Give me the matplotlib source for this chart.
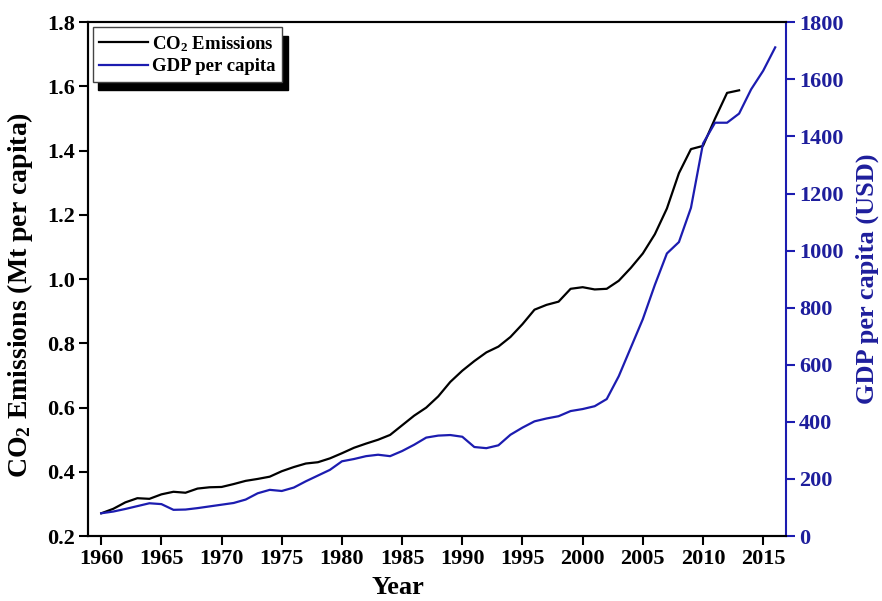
import matplotlib
matplotlib.use("Agg")
import matplotlib.pyplot as plt

plt.rcParams["font.family"] = "Liberation Serif"
plt.rcParams["font.weight"] = "bold"
plt.rcParams["mathtext.fontset"] = "custom"
plt.rcParams["mathtext.rm"] = "Liberation Serif:bold"
plt.rcParams["mathtext.bf"] = "Liberation Serif:bold"
plt.rcParams["mathtext.it"] = "Liberation Serif:bold"

BLUE = "#1c1cb0"
BLUE_TXT = "#1e1e9c"

# CO2 emissions (Mt per capita), 1960-2013
co2_years = list(range(1960, 2014))
co2 = [0.271, 0.285, 0.305, 0.318, 0.316, 0.330, 0.338, 0.335, 0.348, 0.352,
       0.353, 0.362, 0.372, 0.378, 0.385, 0.402, 0.415, 0.426, 0.430, 0.442,
       0.458, 0.475, 0.488, 0.500, 0.515, 0.545, 0.575, 0.600, 0.635, 0.680,
       0.715, 0.745, 0.772, 0.790, 0.820, 0.860, 0.905, 0.920, 0.930, 0.970,
       0.975, 0.968, 0.970, 0.995, 1.035, 1.080, 1.140, 1.220, 1.330, 1.405,
       1.415, 1.500, 1.580, 1.588]

# GDP per capita (USD), 1960-2016
gdp_years = list(range(1960, 2017))
gdp = [80, 86, 95, 105, 115, 112, 92, 93, 98, 104,
       110, 116, 128, 150, 162, 158, 170, 192, 212, 232,
       262, 270, 280, 285, 280, 298, 320, 345, 352, 354,
       348, 312, 308, 318, 355, 380, 402, 412, 420, 438,
       445, 455, 480, 560, 660, 760, 880, 990, 1030, 1150,
       1375, 1448, 1448, 1480, 1565, 1630, 1712]

x_ticks = list(range(1960, 2016, 5))
co2_ticks = [0.2, 0.4, 0.6, 0.8, 1.0, 1.2, 1.4, 1.6, 1.8]
gdp_ticks = list(range(0, 2000, 200))

fig = plt.figure(figsize=(8.82, 6.01), dpi=100)
ax = fig.add_axes([0.0998, 0.108, 0.7914, 0.855])
ax2 = ax.twinx()

l1, = ax.plot(co2_years, co2, color="black", lw=1.6, label=r"CO$_{2}$ Emissions")
l2, = ax2.plot(gdp_years, gdp, color=BLUE, lw=1.6, label="GDP per capita")

ax.set_xlim(1958.9, 2016.9)
ax.set_ylim(0.2, 1.8)
ax2.set_ylim(0, 1800)
ax.set_xticks(x_ticks)
ax.set_yticks(co2_ticks)
ax.set_yticklabels([f"{v:.1f}" for v in co2_ticks])
ax2.set_yticks(gdp_ticks)

for a in (ax, ax2):
    for s in a.spines.values():
        s.set_linewidth(1.5)
ax2.spines["right"].set_color(BLUE)
ax.spines["right"].set_visible(False)

ax.tick_params(axis="both", direction="out", length=6.5, width=1.5,
               labelsize=16, pad=3, top=False, right=False)
ax2.tick_params(axis="y", direction="out", length=6.5, width=1.5, pad=3,
                labelsize=16, colors=BLUE, labelcolor=BLUE_TXT)
for lab in ax.get_xticklabels() + ax.get_yticklabels() + ax2.get_yticklabels():
    lab.set_fontweight("bold")

ax.set_xlabel("Year", fontsize=19, fontweight="bold")
ax.set_ylabel(r"CO$_{2}$ Emissions (Mt per capita)", fontsize=20,
              fontweight="bold")
ax2.set_ylabel("GDP per capita (USD)", fontsize=19, fontweight="bold",
               color=BLUE_TXT)
ax.xaxis.label.set_va("center")
ax.yaxis.label.set_va("center")
ax2.yaxis.label.set_va("center")
ax.xaxis.set_label_coords(0.444, -0.101)
ax.yaxis.set_label_coords(-0.097, 0.47)
ax2.yaxis.set_label_coords(1.117, 0.5)

leg = ax.legend(handles=[l1, l2], loc="upper left", fontsize=13.5,
                frameon=True, fancybox=False, handlelength=2.6,
                handletextpad=0.2, borderpad=0.35, labelspacing=0.25,
                borderaxespad=0, bbox_to_anchor=(0.007, 0.99),
                shadow={"color": "black", "alpha": 1, "ox": 4, "oy": -6})
leg.get_frame().set_edgecolor("#444444")
leg.get_frame().set_linewidth(1.0)
for t in leg.get_texts():
    t.set_fontweight("bold")

fig.savefig("out.png", dpi=100)
